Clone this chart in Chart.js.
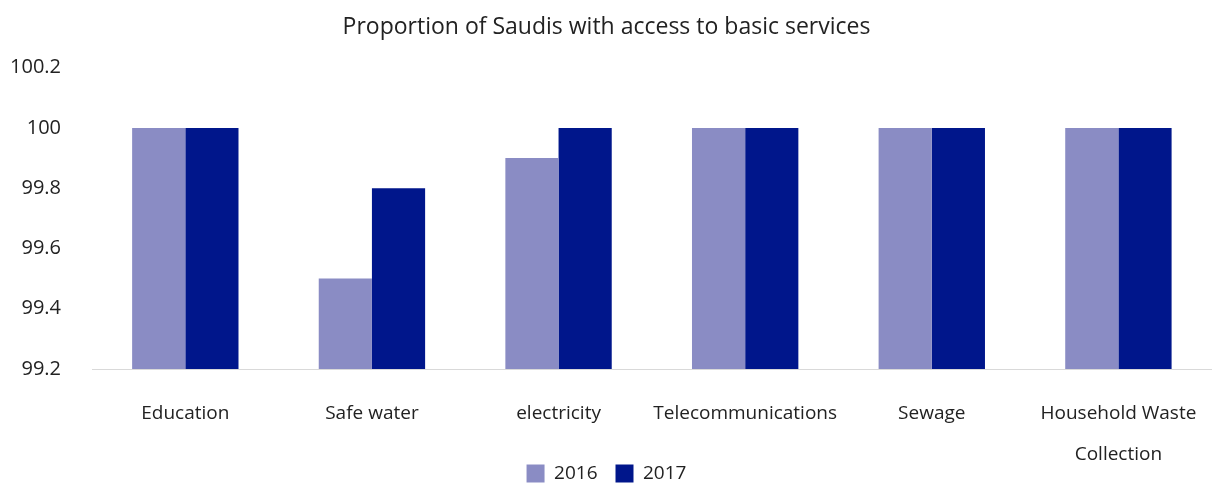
<!DOCTYPE html>
<html>
<head>
<meta charset="utf-8">
<script src="https://cdn.jsdelivr.net/npm/chart.js@4/dist/chart.umd.min.js"></script>
<style>
  html, body { margin: 0; padding: 0; background: #fff; }
  #wrap { width: 1221px; height: 486px; }
</style>
</head>
<body>
<div id="wrap"><canvas id="chart"></canvas></div>
<script>
// Datos
const categories = ['Education', 'Safe water', 'electricity', 'Telecommunications', 'Sewage', ['Household Waste', 'Collection']];
const values2016 = [100, 99.5, 99.9, 100, 100, 100];
const values2017 = [100, 99.8, 100, 100, 100, 100];
const yTicks = [99.2, 99.4, 99.6, 99.8, 100, 100.2];

const fontFamily = '"Open Sans", "DejaVu Sans", sans-serif';
const textColor = '#222222';

// La leyenda se superpone a la segunda línea de etiquetas, como en el original
const overlapLegend = {
  id: 'overlapLegend',
  afterLayout(chart) {
    const x = chart.scales.x;
    x.bottom = chart.height;
    const lg = chart.legend;
    const dy = 446 - lg.top;
    lg.top += dy;
    lg.bottom += dy;
  }
};

new Chart(document.getElementById('chart'), {
  type: 'bar',
  data: {
    labels: categories,
    datasets: [
      { label: '2016', data: values2016, backgroundColor: '#8a8cc4' },
      { label: '2017', data: values2017, backgroundColor: '#00168b' }
    ]
  },
  plugins: [overlapLegend],
  options: {
    responsive: true,
    maintainAspectRatio: false,
    animation: false,
    layout: { padding: { left: 0, right: 8, top: 8, bottom: 0 } },
    datasets: { bar: { categoryPercentage: 0.57, barPercentage: 1.0 } },
    plugins: {
      title: {
        display: true,
        text: 'Proportion of Saudis with access to basic services',
        color: textColor,
        font: { family: fontFamily, size: 23, weight: 'normal' },
        padding: { top: 6, bottom: 26 }
      },
      legend: {
        position: 'bottom',
        labels: {
          color: textColor,
          font: { family: fontFamily, size: 19 },
          boxWidth: 18,
          boxHeight: 18,
          padding: 18
        }
      },
      tooltip: { enabled: false }
    },
    scales: {
      x: {
        grid: { display: false, drawTicks: false },
        border: { display: true, color: '#d9d9d9', width: 1 },
        afterFit: s => { s.height = 117 - s.chart.legend.height; },
        ticks: {
          color: textColor,
          font: { family: fontFamily, size: 19, lineHeight: '41px' },
          padding: 24,
          maxRotation: 0,
          autoSkip: false
        }
      },
      y: {
        min: yTicks[0],
        max: yTicks[yTicks.length - 1],
        afterBuildTicks: s => { s.ticks = yTicks.map(v => ({ value: v })); },
        afterFit: s => { s.width = 92; },
        grid: { display: false, drawTicks: false },
        border: { display: false },
        ticks: {
          color: textColor,
          font: { family: fontFamily, size: 20 },
          padding: 31,
          callback: v => String(+v.toFixed(1))
        }
      }
    }
  }
});
</script>
</body>
</html>
